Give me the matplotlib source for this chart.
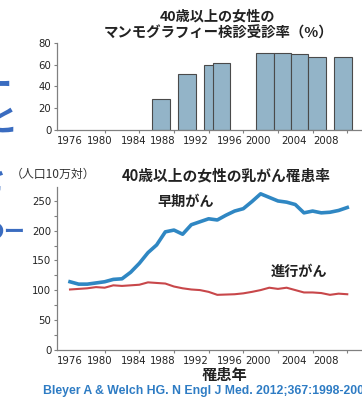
import matplotlib
matplotlib.use("Agg")
import matplotlib.pyplot as plt
from matplotlib.ticker import MultipleLocator

plt.rcParams["font.family"] = ["Noto Sans CJK JP", "DejaVu Sans"]

W, H = 362, 401

# mammography screening rate (%), women 40+
screen_years = [1987, 1990, 1993, 1994, 1999, 2001, 2003, 2005, 2008]
screen_rate = [28, 51, 60, 61, 70.5, 70.5, 69.5, 66.5, 67]

# breast cancer incidence per 100,000 women 40+
years = list(range(1976, 2009))
early_stage = [114, 110, 110, 112, 114, 118, 119, 130, 145, 163, 176, 198, 201,
               194, 210, 215, 220, 218, 226, 233, 237, 249, 262, 256, 250, 248,
               244, 230, 233, 230, 231, 234, 239]
late_stage = [101, 102, 103, 105, 104, 108, 107, 108, 109, 113, 112, 111, 106,
              103, 101, 100, 97, 92, 92.5, 93, 94.5, 97, 100, 104, 102, 104,
              100, 96, 96, 95, 92, 94, 93]

tick_years = list(range(1976, 2009, 4))
tick_text = [str(y) for y in tick_years]
# the year labels sit a little left of their tick marks
label_pos = [1976.0, 1979.4, 1983.4, 1986.7, 1990.5, 1994.4, 1997.7, 2001.8, 2005.6]

AX_GRAY = "#808080"
BAR_FILL = "#93b4c8"
BLUE = "#2f87c3"
RED = "#c8474a"
SLIDE_BLUE = "#3a6cc0"


def px(x, y):
    return x / W, 1 - y / H


def style_axis(ax):
    for side in ("top", "right"):
        ax.spines[side].set_visible(False)
    for side in ("left", "bottom"):
        ax.spines[side].set_color(AX_GRAY)
        ax.spines[side].set_linewidth(0.9)
    ax.set_xlim(1974.5, 2009.7)
    ax.set_xticks(label_pos)
    ax.set_xticklabels(tick_text, family="DejaVu Sans", fontsize=7.3, color="#222222")
    ax.set_xticks(tick_years, minor=True)
    ax.tick_params(axis="x", which="major", length=0, pad=4.5)
    ax.tick_params(axis="x", which="minor", length=2.5, color=AX_GRAY, width=0.8)
    ax.tick_params(axis="y", which="both", length=2.5, color=AX_GRAY, width=0.8,
                   labelsize=7.3, labelcolor="#222222", pad=1.5)
    for lab in ax.get_yticklabels():
        lab.set_family("DejaVu Sans")


fig = plt.figure(figsize=(W / 100, H / 100), dpi=100)

# top: screening rate bars
ax1 = fig.add_axes([57 / W, 1 - 130 / H, (W - 57) / W, 87.3 / H])
ax1.bar([y - 0.5 for y in screen_years], screen_rate, width=2.0,
        color=BAR_FILL, edgecolor="#4a4a4a", linewidth=0.8)
ax1.set_ylim(0, 80)
ax1.set_yticks([0, 20, 40, 60, 80])
style_axis(ax1)

# bottom: incidence lines
ax2 = fig.add_axes([57 / W, 1 - 349.5 / H, (W - 57) / W, 162.8 / H])
ax2.plot(years, early_stage, color=BLUE, lw=2.6, solid_joinstyle="round")
ax2.plot(years, late_stage, color=RED, lw=1.5, solid_joinstyle="round")
ax2.set_ylim(0, 274)
ax2.set_yticks([0, 50, 100, 150, 200, 250])
ax2.yaxis.set_minor_locator(MultipleLocator(25))
style_axis(ax2)

# titles and labels
fig.text(*px(217, 17), "40歳以上の女性の", ha="center", va="center",
         fontsize=10.2, fontweight="bold", color="#222222")
fig.text(*px(219, 33), "マンモグラフィー検診受診率（%）", ha="center", va="center",
         fontsize=10.4, fontweight="bold", color="#222222")
fig.text(*px(226, 175), "40歳以上の女性の乳がん罹患率", ha="center", va="center",
         fontsize=10.6, fontweight="bold", color="#222222")
fig.text(*px(53, 174), "（人口10万対）", ha="center", va="center",
         fontsize=8.6, color="#333333")
fig.text(*px(186, 202), "早期がん", ha="center", va="center",
         fontsize=10.2, fontweight="bold", color="#222222")
fig.text(*px(299, 272), "進行がん", ha="center", va="center",
         fontsize=10.2, fontweight="bold", color="#222222")
fig.text(*px(224, 375), "罹患年", ha="center", va="center",
         fontsize=11, fontweight="bold", color="#222222")
fig.text(*px(43, 391), "Bleyer A & Welch HG. N Engl J Med. 2012;367:1998-2005",
         ha="left", va="center", family="Liberation Sans", fontsize=8.8,
         fontweight="bold", color="#2e7cc4")

# slide text running off the left edge
fig.text(*px(12, 86), "ー", ha="right", va="center", fontsize=24,
         fontweight="bold", color=SLIDE_BLUE)
fig.text(*px(17, 122), "と", ha="right", va="center", fontsize=24,
         fontweight="bold", color=SLIDE_BLUE)
fig.text(*px(6, 180), "を", ha="right", va="center", fontsize=24,
         fontweight="bold", color=SLIDE_BLUE)
fig.text(*px(6, 228), "る", ha="right", va="center", fontsize=24,
         fontweight="bold", color=SLIDE_BLUE)
fig.text(*px(13.5, 231), "ー", ha="center", va="center", fontsize=15,
         fontweight="bold", color=SLIDE_BLUE)

fig.savefig("out.png", dpi=100)
